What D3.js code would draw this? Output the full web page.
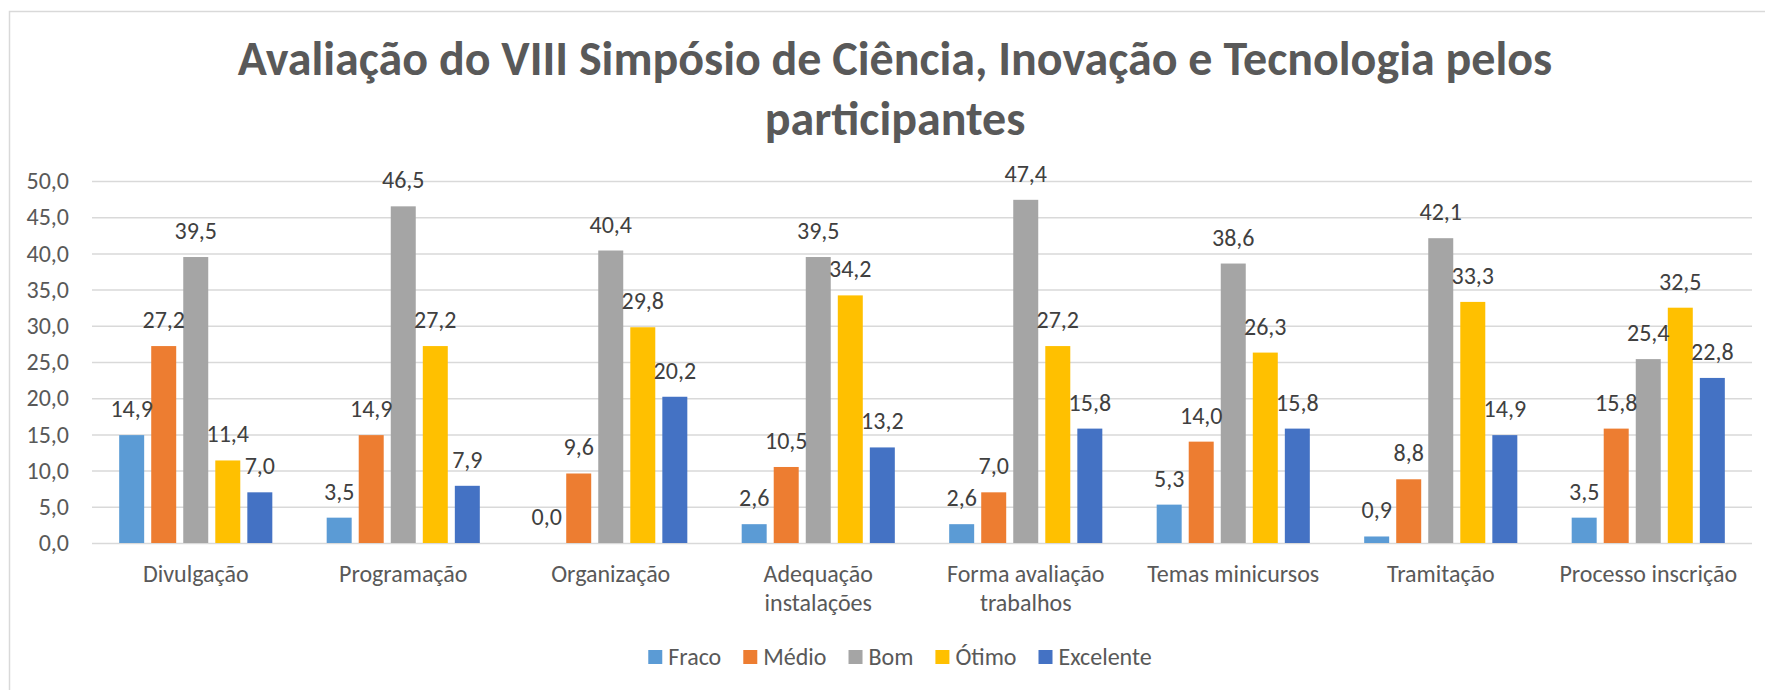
<!DOCTYPE html>
<html>
<head>
<meta charset="utf-8">
<script src="https://cdn.jsdelivr.net/npm/d3@7"></script>
<style>
  body { margin: 0; background: #fff; }
  text { font-family: Calibri, Carlito, "Liberation Sans", Arial, sans-serif; }
</style>
</head>
<body>
<div id="chart"></div>
<script>
// chart data
var categories = ["Divulgação", "Programação", "Organização", "Adequação instalações",
  "Forma avaliação trabalhos", "Temas minicursos", "Tramitação", "Processo inscrição"];
var seriesNames = ["Fraco", "Médio", "Bom", "Ótimo", "Excelente"];
var fraco = [14.9, 3.5, 0.0, 2.6, 2.6, 5.3, 0.9, 3.5];
var medio = [27.2, 14.9, 9.6, 10.5, 7.0, 14.0, 8.8, 15.8];
var bom = [39.5, 46.5, 40.4, 39.5, 47.4, 38.6, 42.1, 25.4];
var otimo = [11.4, 27.2, 29.8, 34.2, 27.2, 26.3, 33.3, 32.5];
var excelente = [7.0, 7.9, 20.2, 13.2, 15.8, 15.8, 14.9, 22.8];
var yTicks = [0, 5, 10, 15, 20, 25, 30, 35, 40, 45, 50];
var categoryLines = {
  "Adequação instalações": ["Adequação", "instalações"],
  "Forma avaliação trabalhos": ["Forma avaliação", "trabalhos"]
};
var titleLines = ["Avaliação do VIII Simpósio de Ciência, Inovação e Tecnologia pelos", "participantes"];

var colors = ["#5B9BD5", "#ED7D31", "#A5A5A5", "#FFC000", "#4472C4"];
var allSeries = [fraco, medio, bom, otimo, excelente];

var svgWidth = 1765;
var svgHeight = 690;
var plot = { left: 92, right: 1752, top: 181, bottom: 543 };
var labelSize = 24;

var svg = d3.select("#chart")
  .append("svg")
  .attr("width", svgWidth)
  .attr("height", svgHeight);

// chart border
svg.append("rect")
  .attr("x", 9.5)
  .attr("y", 11.5)
  .attr("width", svgWidth + 10)
  .attr("height", svgHeight + 10)
  .attr("fill", "none")
  .attr("stroke", "#d9d9d9")
  .attr("stroke-width", 1.5);

// title
svg.append("text")
  .attr("x", 895)
  .attr("y", 75)
  .attr("text-anchor", "middle")
  .attr("font-size", 48)
  .attr("font-weight", "bold")
  .attr("fill", "#595959")
  .selectAll("tspan")
  .data(titleLines)
  .enter()
  .append("tspan")
  .attr("x", 895)
  .attr("dy", (d, i) => i === 0 ? 0 : 60)
  .text(d => d);

// scales
var x0 = d3.scaleBand()
  .domain(categories)
  .range([plot.left, plot.right])
  .paddingInner(0.262)
  .paddingOuter(0.131);

var x1 = d3.scaleBand()
  .domain(seriesNames)
  .range([0, x0.bandwidth()])
  .paddingInner(0.22)
  .paddingOuter(0);

var y = d3.scaleLinear()
  .domain([0, 50])
  .range([plot.bottom, plot.top]);

var fmt = v => d3.format(".1f")(v).replace(".", ",");

// gridlines
var leftAxis = d3.axisLeft(y)
  .tickValues(yTicks)
  .tickSize(-(plot.right - plot.left))
  .tickFormat(fmt)
  .tickPadding(23);

var yAxis = svg.append("g")
  .attr("transform", `translate(${plot.left}, 0)`)
  .call(leftAxis);

yAxis.select(".domain").remove();
yAxis.selectAll(".tick line")
  .attr("stroke", "#d9d9d9")
  .attr("stroke-width", 1.5);
yAxis.selectAll(".tick text")
  .attr("fill", "#595959")
  .attr("font-size", labelSize)
  .attr("font-family", "Calibri, Carlito, 'Liberation Sans', Arial, sans-serif");

// bars
var rows = categories.map((c, i) => ({
  category: c,
  values: seriesNames.map((s, j) => ({ series: s, value: allSeries[j][i], color: colors[j] }))
}));

var groups = svg.selectAll(".group")
  .data(rows)
  .enter()
  .append("g")
  .attr("class", "group")
  .attr("transform", d => `translate(${x0(d.category)}, 0)`);

groups.selectAll("rect")
  .data(d => d.values)
  .enter()
  .append("rect")
  .attr("x", d => x1(d.series))
  .attr("y", d => y(d.value))
  .attr("width", x1.bandwidth())
  .attr("height", d => y(0) - y(d.value))
  .attr("fill", d => d.color);

// data labels
groups.selectAll(".label")
  .data(d => d.values)
  .enter()
  .append("text")
  .attr("class", "label")
  .attr("x", d => x1(d.series) + x1.bandwidth() / 2)
  .attr("y", d => y(d.value) - 18)
  .attr("text-anchor", "middle")
  .attr("font-size", labelSize)
  .attr("fill", "#404040")
  .text(d => fmt(d.value));

// category labels
var catLabels = svg.selectAll(".cat")
  .data(categories)
  .enter()
  .append("text")
  .attr("class", "cat")
  .attr("text-anchor", "middle")
  .attr("font-size", labelSize)
  .attr("fill", "#595959")
  .attr("y", 582);

catLabels.selectAll("tspan")
  .data(d => (categoryLines[d] || [d]).map(t => ({ t: t, c: d })))
  .enter()
  .append("tspan")
  .attr("x", d => x0(d.c) + x0.bandwidth() / 2)
  .attr("dy", (d, i) => i === 0 ? 0 : 29)
  .text(d => d.t);

// legend
var legend = svg.append("g");
var lx = 0;
seriesNames.forEach(function(s, i) {
  var item = legend.append("g").attr("transform", `translate(${lx}, 0)`);
  item.append("rect")
    .attr("x", 0)
    .attr("y", -7)
    .attr("width", 14)
    .attr("height", 14)
    .attr("fill", colors[i]);
  var t = item.append("text")
    .attr("x", 20)
    .attr("y", 8)
    .attr("font-size", labelSize)
    .attr("fill", "#595959")
    .text(s);
  lx += 20 + t.node().getComputedTextLength() + 22;
});
var legendWidth = lx - 22;
legend.attr("transform", `translate(${900 - legendWidth / 2}, 657)`);
</script>
</body>
</html>
